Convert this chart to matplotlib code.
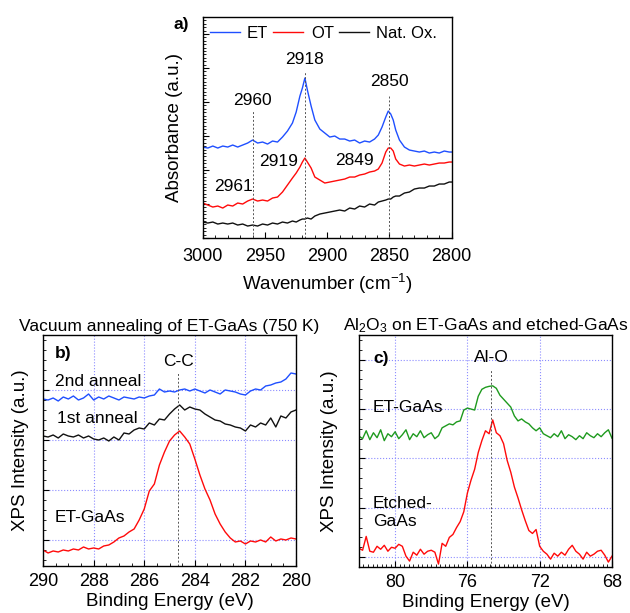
"""FTIR absorbance (ET / OT / native oxide) and XPS C 1s / Al 2p panels"""
import matplotlib as mpl
mpl.use('Agg')
import matplotlib.pyplot as plt
from matplotlib.ticker import MultipleLocator, FixedLocator
import numpy as np

mpl.rcParams.update({
    'font.family': ['Liberation Sans', 'DejaVu Sans'],
    'font.size': 12.5,
    'mathtext.default': 'regular',
    'axes.linewidth': 1.0,
    'xtick.direction': 'in',
    'ytick.direction': 'in',
    'xtick.major.size': 4,
    'ytick.major.size': 4,
    'xtick.minor.size': 2.2,
    'ytick.minor.size': 2.2,
    'xtick.labelsize': 13,
    'ytick.labelsize': 13,
    'axes.labelsize': 13.5,
    'legend.frameon': False,
})

PALETTE = {
    'blue': '#1f4fff',
    'red': '#ff0a0a',
    'black': '#111111',
    'green': '#1e9a1e',
    'grid': '#8c8cff',
    'guide': '#555555',
}

# ── a) FTIR, wavenumber in cm-1 ──
WN = [3000, 2996, 2992, 2988, 2984, 2980, 2976, 2972, 2968, 2964,
      2960, 2956, 2952, 2948, 2944, 2940, 2936, 2932, 2928, 2925,
      2922, 2920, 2918, 2916, 2913, 2910, 2906, 2902, 2898, 2894,
      2890, 2886, 2882, 2878, 2874, 2870, 2866, 2862, 2859, 2856,
      2853, 2851, 2849, 2847, 2845, 2842, 2838, 2834, 2830, 2826,
      2822, 2818, 2814, 2810, 2806, 2802, 2800]
ABS_ET = [9.1, 9.0, 9.2, 9.0, 9.2, 9.1, 9.3, 9.1, 9.3, 9.5,
          9.8, 9.5, 9.6, 9.4, 9.7, 9.6, 10.1, 10.7, 11.5, 12.6,
          14.2, 15.0, 16.0, 14.8, 13.2, 11.8, 10.9, 10.5, 10.1, 10.2,
          9.9, 9.9, 9.7, 9.8, 9.5, 9.7, 9.6, 9.9, 10.3, 11.1,
          12.1, 12.7, 12.4, 11.8, 10.8, 9.8, 9.1, 8.8, 8.7, 8.6,
          8.7, 8.5, 8.6, 8.5, 8.7, 8.6, 8.6]
ABS_OT = [3.5, 3.3, 3.1, 3.2, 3.0, 3.3, 3.2, 3.5, 3.4, 3.7,
          3.9, 3.7, 3.8, 3.7, 4.0, 4.1, 4.6, 5.3, 6.0, 6.5,
          7.1, 7.6, 8.0, 7.6, 7.0, 6.1, 5.8, 5.5, 5.6, 5.7,
          5.8, 5.9, 6.1, 6.1, 6.3, 6.4, 6.6, 6.7, 6.9, 7.5,
          8.6, 9.0, 9.0, 8.7, 7.9, 7.4, 7.2, 7.3, 7.2, 7.3,
          7.4, 7.3, 7.4, 7.5, 7.5, 7.6, 7.6]
ABS_OX = [1.6, 1.5, 1.6, 1.4, 1.5, 1.4, 1.5, 1.3, 1.4, 1.2,
          1.3, 1.2, 1.4, 1.3, 1.5, 1.4, 1.6, 1.5, 1.7, 1.6,
          1.8, 1.9, 1.9, 2.0, 1.9, 2.2, 2.4, 2.5, 2.6, 2.7,
          2.8, 2.7, 3.0, 2.9, 3.2, 3.1, 3.4, 3.3, 3.6, 3.7,
          3.8, 3.9, 3.9, 4.1, 4.2, 4.2, 4.5, 4.6, 4.9, 5.0,
          5.0, 5.2, 5.2, 5.4, 5.4, 5.6, 5.6]
PEAKS_A = [2960, 2918, 2850]
PEAK_TOPS_A = [12.8, 16.7, 14.3]

# ── b) C 1s, vacuum annealing ──
BE_C = np.linspace(290, 280, 51)
C_2ND = [2.82, 2.80, 2.84, 2.78, 2.86, 2.82, 2.88, 2.80, 2.84, 2.92,
         2.80, 2.86, 2.82, 2.88, 2.84, 2.80, 2.86, 2.84, 2.82, 2.86,
         2.84, 2.88, 2.90, 3.02, 2.96, 2.98, 2.96, 3.00, 3.02, 2.98,
         3.02, 2.98, 2.94, 3.00, 2.96, 2.92, 3.00, 2.98, 2.96, 2.92,
         2.90, 2.98, 3.02, 3.00, 3.08, 3.10, 3.14, 3.16, 3.22, 3.34,
         3.32]
C_1ST = [2.08, 2.06, 2.10, 2.04, 2.12, 2.08, 2.06, 2.10, 2.04, 2.08,
         2.02, 2.00, 2.04, 1.98, 2.06, 2.00, 2.14, 2.12, 2.20, 2.24,
         2.22, 2.34, 2.30, 2.42, 2.40, 2.52, 2.62, 2.70, 2.60, 2.66,
         2.62, 2.60, 2.52, 2.46, 2.40, 2.38, 2.32, 2.30, 2.26, 2.24,
         2.18, 2.30, 2.26, 2.34, 2.30, 2.44, 2.26, 2.48, 2.44, 2.56,
         2.60]
C_ET = [-0.20, -0.26, -0.22, -0.24, -0.20, -0.22, -0.18, -0.20, -0.14, -0.18,
        -0.16, -0.18, -0.12, -0.10, -0.04, 0.04, 0.08, 0.16, 0.22, 0.40,
        0.62, 0.98, 1.12, 1.50, 1.76, 1.98, 2.10, 2.18, 2.06, 1.92,
        1.62, 1.30, 1.02, 0.80, 0.52, 0.32, 0.16, 0.04, -0.04, -0.02,
        -0.08, -0.02, -0.04, 0.00, -0.04, 0.06, -0.02, 0.02, 0.00, 0.04,
        0.02]
CC_POS = 284.65

# ── c) Al 2p, Al2O3 on ET-GaAs / etched-GaAs ──
BE_AL = np.linspace(82, 68, 71)
AL_ET = [2.45, 2.40, 2.56, 2.38, 2.52, 2.42, 2.58, 2.36, 2.50, 2.44,
         2.54, 2.40, 2.48, 2.58, 2.38, 2.50, 2.44, 2.56, 2.42, 2.48,
         2.52, 2.40, 2.46, 2.62, 2.66, 2.70, 2.68, 2.74, 2.76, 2.98,
         3.02, 3.00, 2.98, 3.26, 3.40, 3.44, 3.46, 3.47, 3.42, 3.28,
         3.20, 3.12, 3.04, 2.86, 2.76, 2.80, 2.74, 2.70, 2.62, 2.56,
         2.62, 2.50, 2.46, 2.42, 2.50, 2.44, 2.56, 2.40, 2.48, 2.44,
         2.38, 2.46, 2.40, 2.52, 2.46, 2.42, 2.50, 2.44, 2.52, 2.58,
         2.41]
AL_ETCHED = [0.18, 0.14, 0.42, 0.12, 0.10, 0.22, 0.16, 0.24, 0.12, 0.20,
             0.18, 0.26, 0.22, 0.02, -0.08, 0.10, 0.04, 0.16, 0.06, 0.12,
             0.14, 0.10, -0.14, 0.28, 0.22, 0.40, 0.46, 0.60, 0.72, 0.92,
             1.30, 1.56, 1.78, 2.12, 2.36, 2.56, 2.50, 2.78, 2.52, 2.46,
             2.30, 1.96, 1.72, 1.42, 1.20, 0.96, 0.74, 0.54, 0.48, 0.56,
             0.22, 0.12, 0.06, -0.04, 0.08, 0.02, 0.10, 0.04, 0.16, 0.24,
             0.12, 0.06, -0.04, 0.10, 0.02, 0.06, 0.12, 0.14, 0.04, -0.10,
             0.02]
ALO_POS = 74.7


def guide(ax, x, top, bottom):
    ax.vlines(x, bottom, top, colors=PALETTE['guide'], lw=0.7, linestyles=(0, (2, 2)))


def xps_grid(ax):
    ax.grid(True, which='major', color=PALETTE['grid'], ls=':', lw=0.8)
    ax.set_axisbelow(True)


fig = plt.figure(figsize=(6.3, 6.13), dpi=100)

# Panel a
ax_a = fig.add_axes([0.322, 0.6117, 0.395, 0.3605])
ax_a.plot(WN, ABS_ET, color=PALETTE['blue'], lw=1.0, label='ET')
ax_a.plot(WN, ABS_OT, color=PALETTE['red'], lw=1.0, label='OT')
ax_a.plot(WN, ABS_OX, color=PALETTE['black'], lw=1.0, label='Nat. Ox.')
for x, top in zip(PEAKS_A, PEAK_TOPS_A):
    guide(ax_a, x, top, 0)
ax_a.set_xlim(3000, 2800)
ax_a.set_ylim(0, 22.1)
ax_a.xaxis.set_major_locator(MultipleLocator(50))
ax_a.xaxis.set_minor_locator(MultipleLocator(10))
ax_a.yaxis.set_major_locator(MultipleLocator(3.4))
ax_a.yaxis.set_minor_locator(MultipleLocator(0.34))
ax_a.tick_params(axis='y', labelleft=False)
ax_a.tick_params(axis='x', pad=7)
ax_a.set_xlabel('Wavenumber (cm$^{-1}$)', labelpad=5)
ax_a.set_ylabel('Absorbance (a.u.)', labelpad=11)
for txt, x, y in [('2960', 2960, 13.8), ('2918', 2918, 17.9), ('2850', 2850, 15.7),
                  ('2919', 2939, 7.65), ('2849', 2878, 7.8), ('2961', 2975.5, 5.2)]:
    ax_a.text(x, y, txt, ha='center', va='center', fontsize=12.5)
ax_a.legend(loc='upper left', bbox_to_anchor=(0.0, 0.99), ncol=3, fontsize=12,
            handlelength=1.8, handletextpad=0.45, columnspacing=0.3,
            borderaxespad=0.1, borderpad=0.3)
fig.text(173 / 630, 1 - 25 / 613, 'a)', fontsize=12.5, fontweight='bold',
         ha='left', va='center')

# Panel b
ax_b = fig.add_axes([0.0683, 0.0767, 0.4016, 0.3768])
xps_grid(ax_b)
ax_b.plot(BE_C, C_2ND, color=PALETTE['blue'], lw=1.0)
ax_b.plot(BE_C, C_1ST, color=PALETTE['black'], lw=1.0)
ax_b.plot(BE_C, C_ET, color=PALETTE['red'], lw=1.0)
guide(ax_b, CC_POS, 3.36, -0.52)
ax_b.set_xlim(290, 280)
ax_b.set_ylim(-0.52, 4.1)
ax_b.xaxis.set_major_locator(MultipleLocator(2))
ax_b.xaxis.set_minor_locator(MultipleLocator(0.5))
ax_b.yaxis.set_major_locator(FixedLocator([0, 1, 2, 3]))
ax_b.yaxis.set_minor_locator(MultipleLocator(0.2))
ax_b.tick_params(axis='y', labelleft=False)
ax_b.tick_params(axis='x', pad=5)
ax_b.set_xlabel('Binding Energy (eV)', labelpad=2)
ax_b.set_ylabel('XPS Intensity (a.u.)', labelpad=7)
ax_b.set_title('Vacuum annealing of ET-GaAs (750 K)', fontsize=12.5, pad=3)
ax_b.text(289.53, 3.74, 'b)', fontweight='bold', ha='left', va='center')
ax_b.text(CC_POS, 3.58, 'C-C', ha='center', va='center')
ax_b.text(289.53, 3.18, '2nd anneal', ha='left', va='center')
ax_b.text(289.45, 2.42, '1st anneal', ha='left', va='center')
ax_b.text(289.53, 0.44, 'ET-GaAs', ha='left', va='center')

# Panel c
ax_c = fig.add_axes([0.5698, 0.075, 0.4016, 0.3785])
xps_grid(ax_c)
ax_c.plot(BE_AL, AL_ET, color=PALETTE['green'], lw=1.0)
ax_c.plot(BE_AL, AL_ETCHED, color=PALETTE['red'], lw=1.0)
guide(ax_c, ALO_POS, 3.81, -0.2)
ax_c.set_xlim(82, 68)
ax_c.set_ylim(-0.2, 4.5)
ax_c.xaxis.set_major_locator(MultipleLocator(4))
ax_c.xaxis.set_minor_locator(MultipleLocator(0.25))
ax_c.yaxis.set_major_locator(MultipleLocator(1))
ax_c.yaxis.set_minor_locator(MultipleLocator(0.2))
ax_c.tick_params(axis='y', labelleft=False)
ax_c.tick_params(axis='x', pad=5)
ax_c.set_xlabel('Binding Energy (eV)', labelpad=2)
ax_c.set_ylabel('XPS Intensity (a.u.)', labelpad=12)
ax_c.set_title('Al$_2$O$_3$ on ET-GaAs and etched-GaAs', fontsize=12.5, pad=3)
ax_c.text(81.23, 4.02, 'c)', fontweight='bold', ha='left', va='center')
ax_c.text(ALO_POS, 4.05, 'Al-O', ha='center', va='center')
ax_c.text(81.23, 3.03, 'ET-GaAs', ha='left', va='center')
ax_c.text(81.23, 1.09, 'Etched-', ha='left', va='center')
ax_c.text(81.23, 0.72, 'GaAs', ha='left', va='center')

fig.savefig('out.png', dpi=100)
plt.close(fig)
